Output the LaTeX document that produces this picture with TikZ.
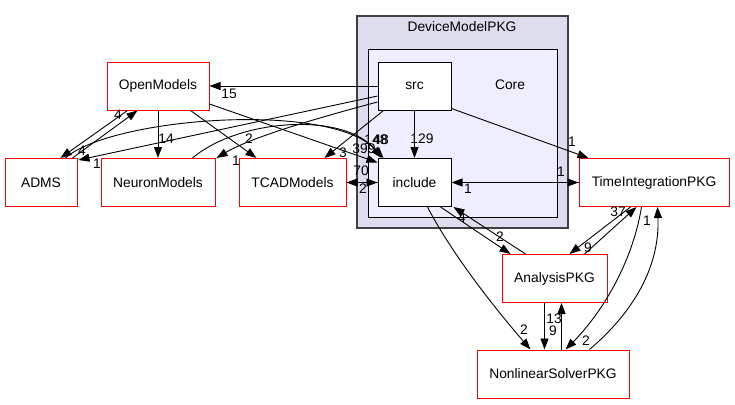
\documentclass[tikz,border=0pt]{standalone}
\usepackage{fontspec}
\setmainfont{Liberation Sans}
\usetikzlibrary{arrows.meta,calc}
\definecolor{clout}{HTML}{DDDDEE}
\definecolor{clin}{HTML}{EEEEFF}
\begin{document}
\begin{tikzpicture}[x=1pt,y=-1pt,
  font=\fontsize{13.8}{16}\selectfont,
  clusterbox/.style={draw=black, line width=1pt, inner sep=0pt},
  dirbox/.style={draw=red, fill=white, line width=1pt, inner sep=0pt, minimum height=48pt},
  corebox/.style={draw=black, fill=white, line width=1pt, inner sep=0pt, minimum width=73pt, minimum height=48pt},
  dep/.style={draw=black, line width=0.9pt, -{Triangle[length=11pt,width=8pt]}},
  lbl/.style={inner sep=0pt}]
\useasboundingbox (0,0) rectangle (735,404);
\fill[white] (0,0) rectangle (735,404);
% clusters
\node[clusterbox, fill=clout, draw=black!75, line width=1.3pt, minimum width=211pt, minimum height=212pt] (devpkg) at (462.5,122) {};
\node[lbl] (devlbl) at (462,27) {DeviceModelPKG};
\node[clusterbox, fill=clin, minimum width=189pt, minimum height=167pt] (core) at (462.5,133.5) {};
\node[lbl] (corelbl) at (510,85) {Core};
% nodes
\node[corebox] (src) at (414.5,86) {src};
\node[corebox] (inc) at (414.5,182.5) {include};
\node[dirbox, minimum width=102pt] (open) at (158,86) {OpenModels};
\node[dirbox, minimum width=72pt] (adms) at (41,182.5) {ADMS};
\node[dirbox, minimum width=114pt] (neuron) at (158,182.5) {NeuronModels};
\node[dirbox, minimum width=107pt] (tcad) at (292.5,182.5) {TCADModels};
\node[dirbox, minimum width=150pt] (time) at (654,182.5) {TimeIntegrationPKG};
\node[dirbox, minimum width=105pt] (ana) at (554.5,278.5) {AnalysisPKG};
\node[dirbox, minimum width=152pt] (nls) at (553,374) {NonlinearSolverPKG};
% edges
\draw[dep] (src.west) -- (open.east);
\draw[dep] ($(src.west)+(0,10)$) -- ($(adms.north east)+(1,2)$);
\draw[dep] ($(src.west)+(0,16)$) .. controls (310,120) and (250,138) .. ($(neuron.north east)+(1,0)$);
\draw[dep] ($(src.south west)+(6,0)$) -- ($(tcad.north east)+(-22,0)$);
\draw[dep] (src.south) -- (inc.north);
\draw[dep] ($(src.south east)+(0,-2)$) -- ($(time.north west)+(10,0)$);
\draw[dep] (open.south) -- (neuron.north);
\draw[dep] ($(open.south west)+(21,0)$) -- ($(adms.north east)+(-17,0)$);
\draw[dep] ($(adms.north east)+(-5,0)$) -- ($(open.south west)+(31,0)$);
\draw[dep] ($(open.south east)+(-19,0)$) -- ($(tcad.north west)+(18,0)$);
\draw[dep] ($(open.east)+(0,18)$) -- ($(inc.west)+(0,-20)$);
\draw[dep] ($(adms.north east)+(-12,0)$) .. controls (110,118) and (330,100) .. ($(inc.north west)+(6,0)$);
\draw[dep] ($(neuron.north east)+(-23,0)$) .. controls (240,118) and (345,112) .. ($(inc.north west)+(4,0)$);
\draw[dep] (tcad.east) -- (inc.west);
\draw[dep] (inc.west) -- (tcad.east);
\draw[dep] (inc.east) -- (time.west);
\draw[dep] (time.west) -- (inc.east);
\draw[dep] ($(inc.south east)+(-11,0)$) -- ($(ana.north west)+(9,0)$);
\draw[dep] ($(ana.north west)+(24,0)$) -- ($(inc.south east)+(2,0)$);
\draw[dep] ($(inc.south)+(13,0)$) .. controls (455,260) and (505,320) .. ($(nls.north west)+(54,0)$);
\draw[dep] ($(ana.south west)+(43,0)$) -- ($(nls.north west)+(68,0)$);
\draw[dep] ($(nls.north west)+(85,0)$) -- ($(ana.south west)+(60,0)$);
\draw[dep] ($(ana.north west)+(83,0)$) -- ($(time.south west)+(58,0)$);
\draw[dep] ($(time.south west)+(52,0)$) -- ($(ana.north west)+(68,0)$);
\draw[dep] ($(time.south west)+(63,0)$) .. controls (632,265) and (600,315) .. ($(nls.north west)+(89,0)$);
\draw[dep] ($(nls.north west)+(113,0)$) .. controls (630,315) and (660,270) .. ($(time.south west)+(79,0)$);
% labels
\node[lbl] (l1) at (229,94) {15};
\node[lbl] (l2) at (97,164) {1};
\node[lbl] (l3) at (236,161) {1};
\node[lbl] (l4) at (343,153) {3};
\node[lbl] (l5) at (422,139) {129};
\node[lbl] (l6) at (572,142) {1};
\node[lbl] (l7) at (166,139) {14};
\node[lbl] (l8) at (118,115) {4};
\node[lbl] (l9) at (82,151) {4};
\node[lbl] (l10) at (249,139) {2};
\node[lbl] (l11) at (376,140) {148};
\node[lbl] (l12) at (381,140) {48};
\node[lbl] (l13) at (364,149) {399};
\node[lbl] (l14) at (361,171) {70};
\node[lbl] (l15) at (363,189) {2};
\node[lbl] (l16) at (561,172) {1};
\node[lbl] (l17) at (468,189) {1};
\node[lbl] (l18) at (462,218) {4};
\node[lbl] (l19) at (500,237) {2};
\node[lbl] (l20) at (524,330) {2};
\node[lbl] (l21) at (553,331) {9};
\node[lbl] (l22) at (554,319) {13};
\node[lbl] (l23) at (618,212) {37};
\node[lbl] (l24) at (588,248) {9};
\node[lbl] (l25) at (586,341) {2};
\node[lbl] (l26) at (647,221) {1};
\end{tikzpicture}
\end{document}
